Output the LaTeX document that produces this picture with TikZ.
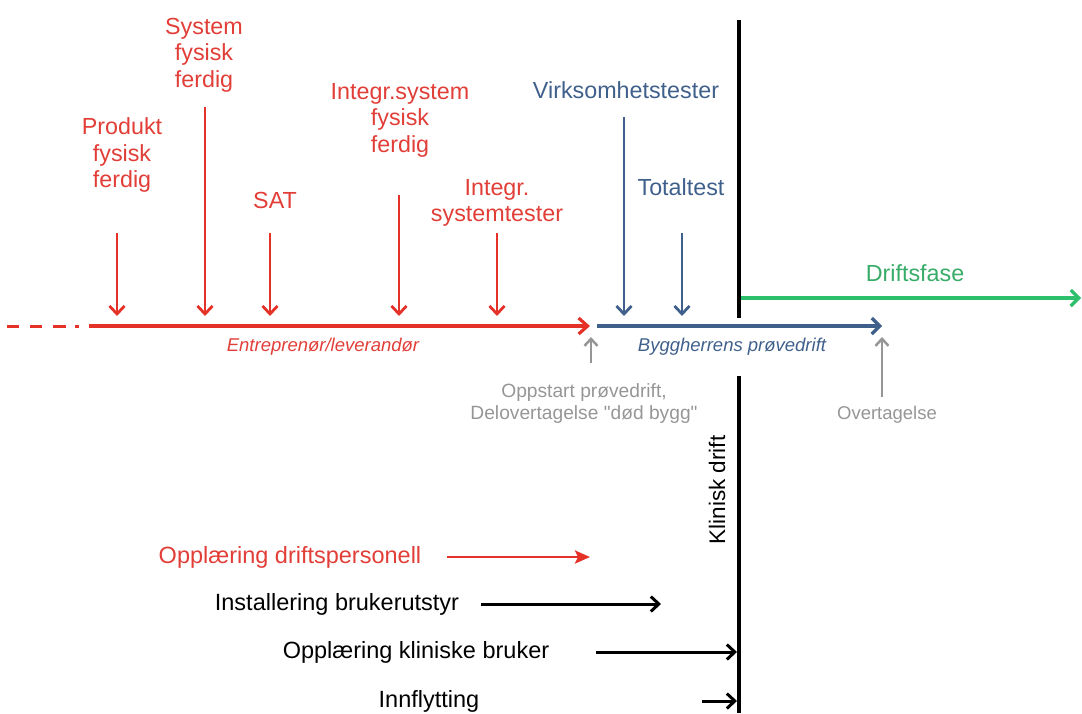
\documentclass[tikz,border=0pt]{standalone}
\usepackage{fontspec}
\setmainfont{Liberation Sans}
\usetikzlibrary{arrows.meta}
\newcommand\straightquote{{\XeTeXglyph\XeTeXcharglyph"22\relax}}
\definecolor{rd}{RGB}{228,50,40}
\definecolor{rdtxt}{RGB}{226,62,56}
\definecolor{bl}{RGB}{64,96,140}
\definecolor{gr}{RGB}{44,192,108}
\definecolor{grtxt}{RGB}{56,172,104}
\definecolor{gy}{RGB}{150,150,150}
\begin{document}
\begin{tikzpicture}[x=1pt,y=-1pt,
  lbl/.style={align=center,inner sep=0pt,font=\fontsize{23.3}{26.5}\selectfont},
  lowlbl/.style={inner sep=0pt,font=\fontsize{23.5}{28}\selectfont},
  note/.style={align=center,inner sep=0pt,font=\fontsize{19.2}{22}\selectfont},
  phase/.style={inner sep=0pt,font=\fontsize{18.5}{22}\selectfont\itshape},
  downarr/.style={line width=2.8pt,-{Straight Barb[length=8pt,width=15pt]}},
  uparr/.style={gy,line width=2.5pt,-{Straight Barb[length=7pt,width=13pt]}},
  mainarr/.style={line width=3.2pt},
  blkarr/.style={black,line width=3pt,-{Straight Barb[length=8pt,width=15pt]}},
  divider/.style={black,line width=3.2pt}
]
\useasboundingbox (0,0) rectangle (1082,713);

% ---- top labels (red)
\node[lbl,rdtxt] (produkt) at (122,155) {Produkt\\fysisk\\ferdig};
\node[lbl,rdtxt] (system) at (204,55) {System\\fysisk\\ferdig};
\node[lbl,rdtxt] (sat) at (275,200) {SAT};
\node[lbl,rdtxt] (isys) at (400,120) {Integr.system\\fysisk\\ferdig};
\node[lbl,rdtxt] (itest) at (497,203) {Integr.\\systemtester};
% ---- top labels (blue)
\node[lbl,bl] (virk) at (626,90) {Virksomhetstester};
\node[lbl,bl] (total) at (681,187) {Totaltest};
% ---- green
\node[lbl,grtxt] (drift) at (915,273) {Driftsfase};

% ---- arrow coordinates
\coordinate (p1) at (117,233); \coordinate (p1e) at (117,316);
\coordinate (s1) at (205,107); \coordinate (s1e) at (205,316);
\coordinate (a1) at (270,233); \coordinate (a1e) at (270,316);
\coordinate (i1) at (399,195); \coordinate (i1e) at (399,316);
\coordinate (t1) at (497,233); \coordinate (t1e) at (497,316);
\coordinate (v1) at (624,117); \coordinate (v1e) at (624,316);
\coordinate (o1) at (682,233); \coordinate (o1e) at (682,316);

\draw[downarr,rd] (p1) -- (p1e);
\draw[downarr,rd] (s1) -- (s1e);
\draw[downarr,rd] (a1) -- (a1e);
\draw[downarr,rd] (i1) -- (i1e);
\draw[downarr,rd] (t1) -- (t1e);
\draw[downarr,bl] (v1) -- (v1e);
\draw[downarr,bl] (o1) -- (o1e);

% ---- timeline
\coordinate (d0) at (7,326);
\coordinate (r0) at (89,326);
\coordinate (r1) at (590,326);
\coordinate (b0) at (597,326);
\coordinate (b1) at (882,326);
\coordinate (g0) at (740,298);
\coordinate (g1) at (1081,298);
\draw[rd,line width=3pt,dash pattern=on 12pt off 11pt on 12pt off 11pt on 13pt off 9pt on 4pt off 20pt] (d0) -- (r0);
\draw[rd,mainarr,-{Straight Barb[length=9pt,width=16pt]}] (r0) -- (r1);
\draw[bl,mainarr,-{Straight Barb[length=8pt,width=16pt]}] (b0) -- (b1);
\draw[gr,mainarr,-{Straight Barb[length=8pt,width=16pt]}] (g0) -- (g1);

\node[phase,rdtxt] (entr) at (323,347) {Entreprenør/leverandør};
\node[phase,bl] (bygg) at (732,347) {Byggherrens prøvedrift};

% ---- gray milestones
\coordinate (u1) at (591,363); \coordinate (u1e) at (591,337);
\coordinate (u2) at (882,397); \coordinate (u2e) at (882,337);
\draw[uparr] (u1) -- (u1e);
\draw[uparr] (u2) -- (u2e);
\node[note,gy] (opp) at (584,404) {Oppstart prøvedrift,\\Delovertagelse \straightquote død bygg\straightquote};
\node[note,gy,font=\fontsize{18.5}{22}\selectfont] (over) at (887,415) {Overtagelse};

% ---- divider
\coordinate (k0) at (739,20); \coordinate (k1) at (739,318);
\coordinate (k2) at (739,376); \coordinate (k3) at (739,713);
\draw[divider] (k0) -- (k1);
\draw[divider] (k2) -- (k3);
\node[lowlbl,rotate=90,font=\fontsize{22.5}{26}\selectfont] (klin) at (717,490) {Klinisk drift};

% ---- bottom activities
\node[lowlbl,rdtxt] (odp) at (290,557) {Opplæring driftspersonell};
\node[lowlbl] (inst) at (337,604) {Installering brukerutstyr};
\node[lowlbl] (okb) at (416,652) {Opplæring kliniske bruker};
\node[lowlbl] (innf) at (429,701) {Innflytting};

\coordinate (q1) at (447,557); \coordinate (q1e) at (590,557);
\coordinate (q2) at (481,604); \coordinate (q2e) at (661,604);
\coordinate (q3) at (596,652); \coordinate (q3e) at (737,652);
\coordinate (q4) at (702,701); \coordinate (q4e) at (737,701);
\draw[rd,line width=2.8pt,-{Stealth[length=15pt,width=13pt,inset=3pt]}] (q1) -- (q1e);
\draw[blkarr] (q2) -- (q2e);
\draw[blkarr] (q3) -- (q3e);
\draw[blkarr] (q4) -- (q4e);
\end{tikzpicture}
\end{document}
